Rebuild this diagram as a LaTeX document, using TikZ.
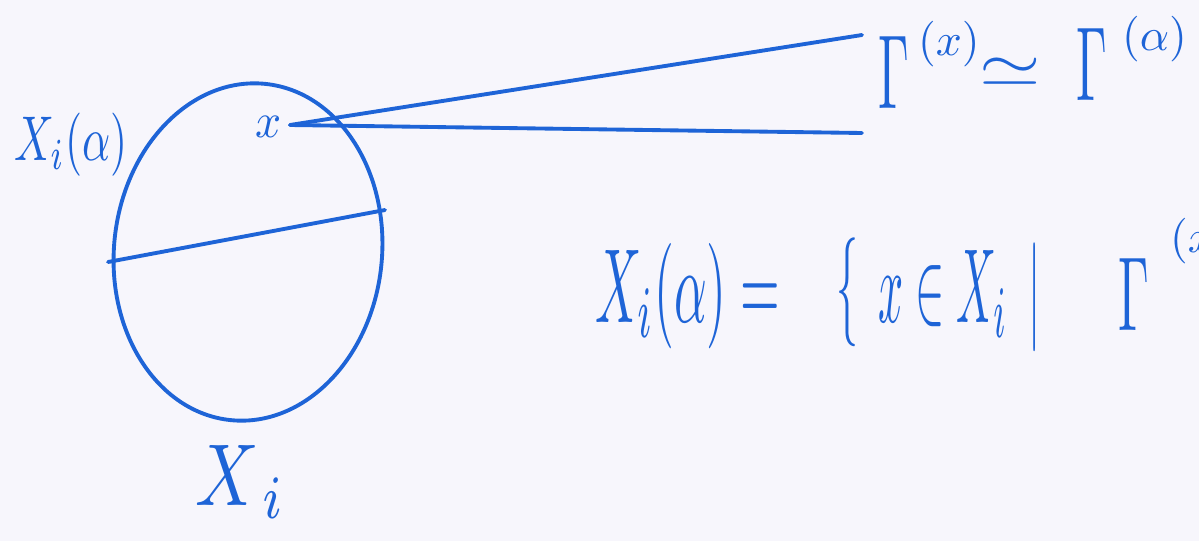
\documentclass[tikz,border=0pt]{standalone}
\usepackage{amssymb}
\definecolor{ink}{RGB}{30,100,215}
\definecolor{paper}{RGB}{247,246,252}
\begin{document}
\begin{tikzpicture}[x=0.02cm,y=-0.02cm,
  pen/.style={draw=ink,line width=2.2pt,line cap=round,line join=round},
  hw/.style={text=ink,inner sep=0pt,outer sep=0pt}]
\useasboundingbox (0,0) rectangle (1199,541);
\fill[paper] (0,0) rectangle (1199,541);
\clip (0,0) rectangle (1199,541);
% ellipse X_i
\draw[pen,rotate around={-6:(248,252)}] (248,252) ellipse [x radius=134, y radius=169];
% chord
\coordinate (cl) at (108,262);
\coordinate (cr) at (385,210);
\draw[pen] (cl) -- (cr);
% point x
\node[hw,anchor=base east,xscale=2.6,yscale=2.8] (px) at (282,137) {$x$};
\coordinate (p0) at (290,125);
\coordinate (e1) at (862,35);
\coordinate (e2) at (862,133);
\draw[pen] (p0) -- (e1);
\draw[pen] (p0) -- (e2);
% left label
\node[hw,anchor=base west,xscale=2.5,yscale=3.6] (lab) at (14,160) {$X_i(\alpha)$};
% bottom label
\node[hw,anchor=base west,xscale=4,yscale=5] (xi) at (195,505) {$X_{\,i}$};
% top right
\node[hw,anchor=base west,xscale=2.8,yscale=6] (g1) at (878,108) {$\Gamma$};
\node[hw,anchor=base west,xscale=2.6,yscale=2.6] (s1) at (918,55) {$(x)$};
\node[hw,xscale=4.5,yscale=3.5] (sim) at (1010,72) {$\simeq$};
\node[hw,anchor=base west,xscale=2.8,yscale=6] (g2) at (1076,100) {$\Gamma$};
\node[hw,anchor=base west,xscale=2.6,yscale=2.6] (s2) at (1122,50) {$(\alpha)$};
% formula
\node[hw,anchor=base west,xscale=2.9,yscale=6] (f1) at (595,322) {$X_i(\alpha)=$};
\node[hw,xscale=2.5,yscale=6.2] (br) at (847,292) {$\{$};
\node[hw,anchor=base west,xscale=2.5,yscale=6] (f2) at (878,322) {$x\in X_i$};
\node[hw,xscale=2.5,yscale=6.2] (bar) at (1035,297) {$|$};
\node[hw,anchor=base west,xscale=2.8,yscale=6] (g3) at (1118,330) {$\Gamma$};
\node[hw,anchor=base west,xscale=2.6,yscale=2.6] (s3) at (1170,252) {$(x)$};
\node[hw,xscale=4.5,yscale=3.5] (sim2) at (1228,300) {$\simeq$};
\end{tikzpicture}
\end{document}
